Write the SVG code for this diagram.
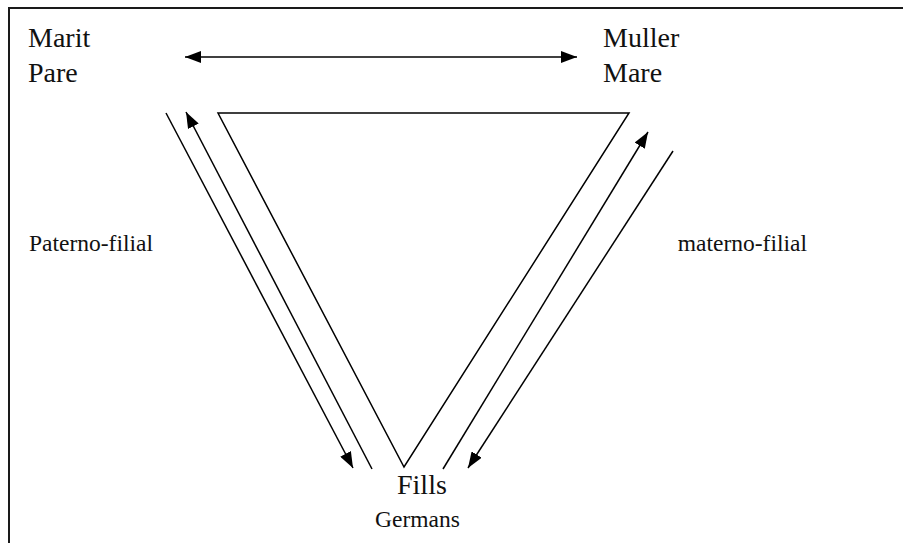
<svg xmlns="http://www.w3.org/2000/svg" width="903" height="543" viewBox="0 0 903 543">
  <style>
    .frame { fill: none; stroke: #1a1a1a; stroke-width: 2; }
    .edge { fill: none; stroke: #000; stroke-width: 1.5; }
    text { fill: #111; }
    .big { font-size: 28px; }
    .small { font-size: 23.5px; }
  </style>
  <defs>
    <marker id="head" viewBox="0 0 16 12" refX="16" refY="6" markerWidth="16" markerHeight="12" markerUnits="userSpaceOnUse" orient="auto-start-reverse">
      <path d="M0,0 L16,6 L0,12 Z" fill="#000"/>
    </marker>
  </defs>
  <rect width="903" height="543" fill="#fff"/>
  <path class="frame" d="M9,543 V8 H905"/>

  <g font-family="'Liberation Serif', 'DejaVu Serif', serif">
    <g id="marit-pare">
      <text class="big" x="28" y="47">Marit</text>
      <text class="big" x="28" y="82">Pare</text>
    </g>
    <g id="muller-mare">
      <text class="big" x="603" y="47">Muller</text>
      <text class="big" x="603" y="82">Mare</text>
    </g>
    <g id="fills-germans">
      <text class="big" x="397" y="494">Fills</text>
      <text class="small" x="375" y="527">Germans</text>
    </g>
    <g id="label-paterno">
      <text class="small" x="29" y="251">Paterno-filial</text>
    </g>
    <g id="label-materno">
      <text class="small" x="807" y="251" text-anchor="end">materno-filial</text>
    </g>
  </g>

  <g id="connectors">
    <line class="edge" x1="185" y1="57" x2="577" y2="57" marker-start="url(#head)" marker-end="url(#head)"/>
    <path class="edge" d="M218,113 H629 L404,467 Z"/>
    <line class="edge" x1="166" y1="113" x2="353" y2="468" marker-end="url(#head)"/>
    <line class="edge" x1="372" y1="469" x2="186" y2="112" marker-end="url(#head)"/>
    <line class="edge" x1="443" y1="469" x2="648" y2="132" marker-end="url(#head)"/>
    <line class="edge" x1="673" y1="151" x2="468" y2="468" marker-end="url(#head)"/>
  </g>
</svg>
